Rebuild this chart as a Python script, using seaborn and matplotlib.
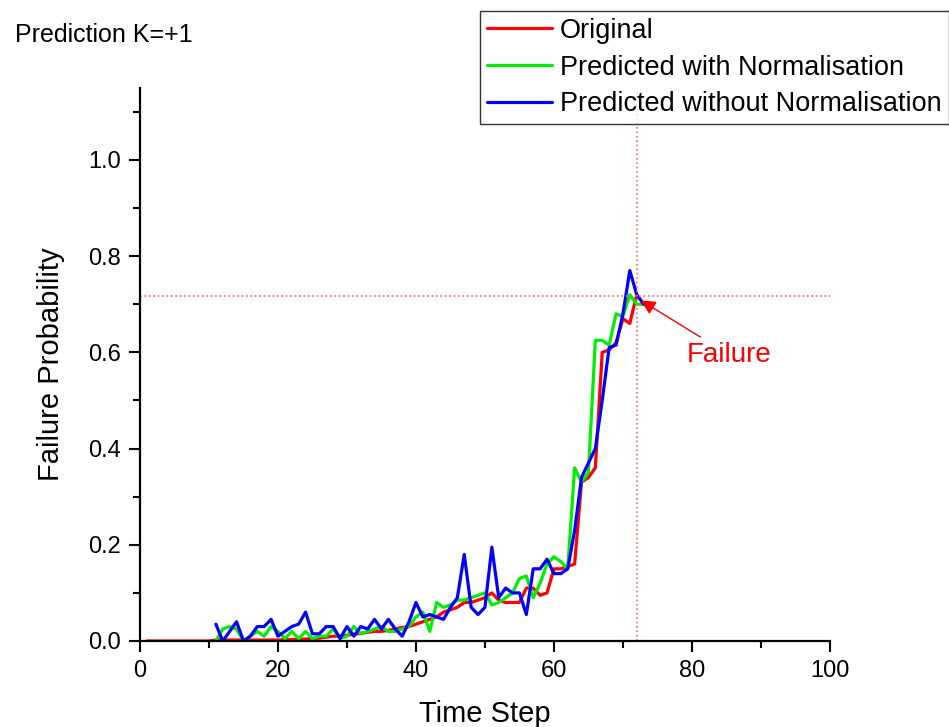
import numpy as np
import pandas as pd
import matplotlib
matplotlib.use('Agg')
import matplotlib.pyplot as plt
from matplotlib.ticker import MultipleLocator
import seaborn as sns

# values
steps_orig = list(range(1, 73))
original = [0.0] * 10 + [0.002] * 10 + [
    0.003, 0.003, 0.004, 0.004, 0.005, 0.006, 0.008, 0.010, 0.010, 0.012,
    0.014, 0.016, 0.018, 0.020, 0.020, 0.022, 0.025, 0.028, 0.030, 0.035,
    0.040, 0.045, 0.050, 0.060, 0.065, 0.070, 0.080, 0.080, 0.085, 0.090,
    0.100, 0.085, 0.080, 0.080, 0.080, 0.110, 0.110, 0.095, 0.100, 0.150,
    0.150, 0.155, 0.160, 0.330, 0.340, 0.360, 0.600, 0.605, 0.620, 0.670,
    0.660, 0.720]

steps_pred = list(range(11, 74))
pred_norm = [
    0.000, 0.025, 0.030, 0.025, 0.000, 0.010, 0.020, 0.010, 0.030, 0.020,
    0.005, 0.020, 0.005, 0.020, 0.005, 0.010, 0.010, 0.025, 0.005, 0.010,
    0.030, 0.015, 0.020, 0.025, 0.030, 0.020, 0.020, 0.025, 0.030, 0.050,
    0.060, 0.020, 0.080, 0.070, 0.075, 0.085, 0.085, 0.090, 0.095, 0.100,
    0.075, 0.080, 0.090, 0.100, 0.130, 0.135, 0.090, 0.120, 0.160, 0.175,
    0.165, 0.150, 0.360, 0.330, 0.350, 0.625, 0.625, 0.615, 0.680, 0.675,
    0.720, 0.700, 0.700]
pred_raw = [
    0.035, 0.000, 0.020, 0.040, 0.000, 0.010, 0.030, 0.030, 0.045, 0.010,
    0.020, 0.030, 0.035, 0.060, 0.015, 0.015, 0.030, 0.030, 0.005, 0.030,
    0.010, 0.030, 0.025, 0.045, 0.025, 0.045, 0.025, 0.010, 0.040, 0.080,
    0.050, 0.055, 0.050, 0.045, 0.070, 0.090, 0.180, 0.070, 0.055, 0.070,
    0.195, 0.090, 0.110, 0.100, 0.100, 0.055, 0.150, 0.150, 0.170, 0.140,
    0.140, 0.150, 0.230, 0.340, 0.370, 0.400, 0.500, 0.610, 0.615, 0.680,
    0.770, 0.720, 0.700]

failure_step = 72
failure_prob = 0.718

sns.set_style('ticks')
plt.rcParams['font.family'] = ['Liberation Sans', 'DejaVu Sans']
plt.rcParams['text.color'] = 'black'
plt.rcParams['axes.labelcolor'] = 'black'

fig = plt.figure(figsize=(9.49, 7.27), dpi=100)
ax = fig.add_axes([0.1475, 0.1183, 0.727, 0.761])

df = pd.concat([
    pd.DataFrame({'step': steps_orig, 'prob': original, 'series': 'Original'}),
    pd.DataFrame({'step': steps_pred, 'prob': pred_norm, 'series': 'Predicted with Normalisation'}),
    pd.DataFrame({'step': steps_pred, 'prob': pred_raw, 'series': 'Predicted without Normalisation'}),
])
palette = {'Original': '#ff0000',
           'Predicted with Normalisation': '#00ee00',
           'Predicted without Normalisation': '#0000ff'}
sns.lineplot(data=df, x='step', y='prob', hue='series', palette=palette,
             linewidth=2.3, ax=ax, legend=False)

# failure reference lines
ax.axvline(failure_step, color='#ff6666', linestyle=':', linewidth=1.2)
ax.axhline(failure_prob, color='#ff6666', linestyle=':', linewidth=1.2)
ax.annotate('Failure', xy=(failure_step + 0.6, failure_prob - 0.01),
            xytext=(85.4, 0.595), color='red', fontsize=20, ha='center', va='center',
            arrowprops=dict(arrowstyle='-|>', color='red', lw=1, mutation_scale=22,
                            shrinkA=2, shrinkB=0))

ax.set_xlim(0, 100)
ax.set_ylim(0, 1.15)
ax.xaxis.set_major_locator(MultipleLocator(20))
ax.xaxis.set_minor_locator(MultipleLocator(10))
ax.yaxis.set_minor_locator(MultipleLocator(0.1))
ax.set_yticks([0, 0.2, 0.4, 0.6, 0.8, 1.0])
ax.set_yticklabels(['0.0', '0.2', '0.4', '0.6', '0.8', '1.0'])
ax.tick_params(which='major', direction='out', length=8, width=1.5, labelsize=17,
               colors='black', pad=6)
ax.tick_params(which='minor', direction='out', length=5, width=1.5, colors='black')
for s in ['left', 'bottom']:
    ax.spines[s].set_linewidth(1.6)
    ax.spines[s].set_color('black')
sns.despine(ax=ax)

ax.set_xlabel('Time Step', fontsize=21, labelpad=13)
ax.set_ylabel('Failure Probability', fontsize=21, labelpad=16)
fig.text(0.016, 0.952, 'Prediction K=+1', fontsize=18, va='center', ha='left')

handles = [plt.Line2D([], [], color=palette[k], linewidth=2.3) for k in palette]
leg = fig.legend(handles, list(palette.keys()), loc='upper right',
                 bbox_to_anchor=(0.9995, 0.985), fontsize=19.5, frameon=True,
                 fancybox=False, handlelength=2.4, handletextpad=0.3,
                 labelspacing=0.4, borderpad=0.25, borderaxespad=0)
leg.get_frame().set_edgecolor('black')
leg.get_frame().set_linewidth(1.0)

fig.savefig('out.png', dpi=100)
